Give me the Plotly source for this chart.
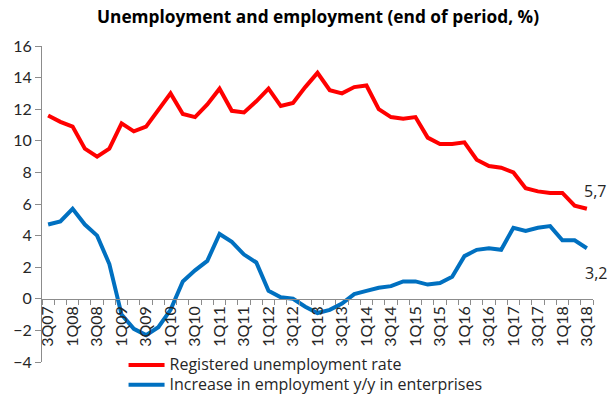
import plotly.graph_objects as go

# Quarterly axis: 3Q07 .. 3Q18
quarters = []
for year in range(2007, 2019):
    for q in range(1, 5):
        if (year == 2007 and q < 3) or (year == 2018 and q > 3):
            continue
        quarters.append(f"{q}Q{year % 100:02d}")

# Registered unemployment rate, end of period (%)
unemployment = [11.6, 11.2, 10.9, 9.5, 9.0, 9.5, 11.1, 10.6, 10.9, 12.0,
                13.0, 11.7, 11.5, 12.3, 13.3, 11.9, 11.8, 12.5, 13.3, 12.2,
                12.4, 13.4, 14.3, 13.2, 13.0, 13.4, 13.5, 12.0, 11.5, 11.4,
                11.5, 10.2, 9.8, 9.8, 9.9, 8.8, 8.4, 8.3, 8.0, 7.0,
                6.8, 6.7, 6.7, 5.9, 5.7]

# Increase in employment y/y in enterprises (%)
employment = [4.7, 4.9, 5.7, 4.7, 4.0, 2.2, -1.0, -1.9, -2.3, -1.8,
              -0.7, 1.1, 1.8, 2.4, 4.1, 3.6, 2.8, 2.3, 0.5, 0.1,
              0.0, -0.5, -0.9, -0.7, -0.3, 0.3, 0.5, 0.7, 0.8, 1.1,
              1.1, 0.9, 1.0, 1.4, 2.7, 3.1, 3.2, 3.1, 4.5, 4.3,
              4.5, 4.6, 3.7, 3.7, 3.2]

series_names = ["Registered unemployment rate",
                "Increase in employment y/y in enterprises"]

tick_text = [q if i % 2 == 0 else "" for i, q in enumerate(quarters)]

RED = "#FF0000"
BLUE = "#0070C0"
TICK_FONT = "Lato"
TEXT_FONT = "Open Sans"
AXIS_GREY = "#8C8C8C"
INK = "#262626"

W, H = 607, 400
M_L, M_R, M_T, M_B = 42, 14, 46, 0
PLOT_H = H - M_T - M_B
# bottom of the value axis sits 38 px above the page bottom; legend goes below it
Y_DOMAIN_0 = 38 / PLOT_H

y_min, y_max = -4, 16
zero_pos = Y_DOMAIN_0 + (0 - y_min) / (y_max - y_min) * (1 - Y_DOMAIN_0)


def legend_label(name):
    # larger glyphs inside a compact legend row
    return f'<span style="font-size:16px">{name}</span>'


fig = go.Figure()
fig.add_trace(go.Scatter(
    x=quarters, y=unemployment, mode="lines",
    name=legend_label(series_names[0]),
    line=dict(color=RED, width=4),
))
fig.add_trace(go.Scatter(
    x=quarters, y=employment, mode="lines",
    name=legend_label(series_names[1]),
    line=dict(color=BLUE, width=4),
))


def fmt(v):
    return f"{v:.1f}".replace(".", ",")


# End-of-series value labels
fig.add_annotation(x=quarters[-1], y=unemployment[-1], text=fmt(unemployment[-1]),
                   showarrow=False, xshift=8, yshift=18,
                   font=dict(family=TEXT_FONT, size=16, color=INK))
fig.add_annotation(x=quarters[-1], y=employment[-1], text=fmt(employment[-1]),
                   showarrow=False, xshift=9, yshift=-25,
                   font=dict(family=TEXT_FONT, size=16, color=INK))

fig.update_layout(
    width=W, height=H,
    margin=dict(l=M_L, r=M_R, t=M_T, b=M_B),
    paper_bgcolor="white", plot_bgcolor="white",
    title=dict(text="<b>Unemployment and employment (end of period, %)</b>",
               x=318 / W, xanchor="center", y=1 - 17 / H, yanchor="middle",
               font=dict(family=TEXT_FONT, size=17.3, color="black")),
    font=dict(family=TEXT_FONT, color=INK),
    showlegend=True,
    legend=dict(x=0.148, y=0, xanchor="left", yanchor="bottom",
                bgcolor="rgba(0,0,0,0)", font=dict(family=TEXT_FONT, size=13, color=INK),
                tracegroupgap=0, itemwidth=36),
    xaxis=dict(
        type="category", range=[-0.5, len(quarters) - 0.5],
        tickmode="array", tickvals=quarters, ticktext=tick_text,
        tickson="boundaries", ticks="outside", ticklen=5, tickcolor=AXIS_GREY,
        tickangle=-90, tickfont=dict(family=TICK_FONT, size=16, color=INK),
        showline=True, linecolor=AXIS_GREY, linewidth=1,
        showgrid=False, zeroline=False, automargin=False,
        anchor="free", position=zero_pos,
    ),
    yaxis=dict(
        domain=[Y_DOMAIN_0, 1],
        range=[y_min, y_max], tickmode="linear", tick0=y_min, dtick=2,
        ticks="outside", ticklen=6, tickcolor=AXIS_GREY,
        tickfont=dict(family=TICK_FONT, size=16, color=INK),
        showline=True, linecolor=AXIS_GREY, linewidth=1,
        showgrid=False, zeroline=False, automargin=False,
    ),
)

fig.write_html("out.html")
